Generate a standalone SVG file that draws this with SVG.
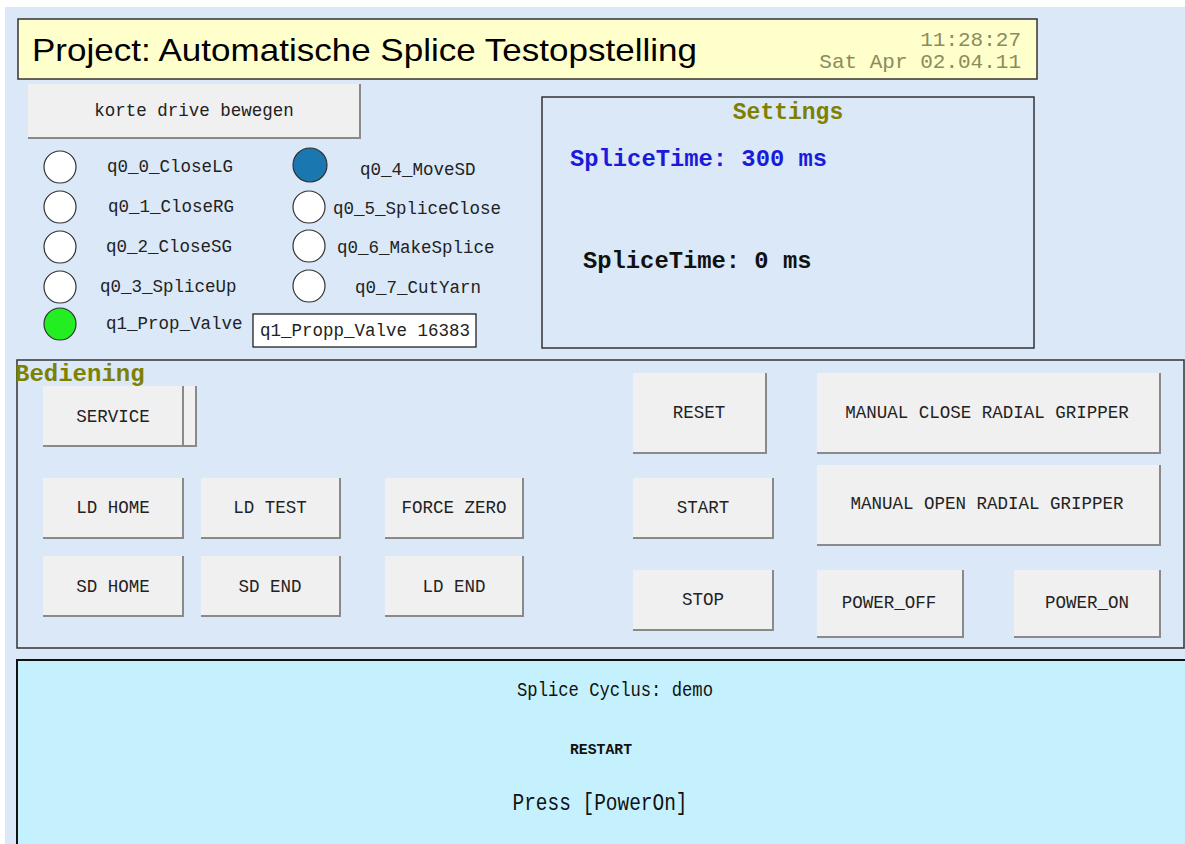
<svg xmlns="http://www.w3.org/2000/svg" width="1185" height="844" viewBox="0 0 1185 844">
<style>
.bg{fill:#dae8f8}
.btn rect{fill:#f0f0f0}
.btn polyline{fill:none;stroke:#8a8a8a;stroke-width:2}
.bt{font-family:"Liberation Mono",monospace;font-size:17.5px;fill:#222;text-anchor:middle}
.lbl{font-family:"Liberation Mono",monospace;font-size:17.5px;fill:#222}
.led{stroke:#333;stroke-width:1.2}
.olive{font-family:"Liberation Mono",monospace;font-weight:bold;fill:#7f8000}
.st{font-family:"Liberation Mono",monospace;fill:#111;text-anchor:middle}
</style>
<rect x="0" y="0" width="1185" height="844" fill="#ffffff"/>
<rect class="bg" x="5" y="7" width="1180" height="837"/>

<g id="title">
<rect x="18" y="19" width="1019" height="60" fill="#ffffcc" stroke="#333" stroke-width="1.5"/>
<text x="32" y="61" font-family="Liberation Sans, Arial, sans-serif" font-size="32" textLength="665" lengthAdjust="spacingAndGlyphs" fill="#000">Project: Automatische Splice Testopstelling</text>
<text x="1021" y="46" font-family="Liberation Mono, monospace" font-size="21" fill="#8b8b5e" text-anchor="end">11:28:27</text>
<text x="1021" y="68" font-family="Liberation Mono, monospace" font-size="21" fill="#8b8b5e" text-anchor="end">Sat Apr 02.04.11</text>
</g>

<g id="btn-korte" class="btn">
<rect x="28" y="84" width="332" height="54"/>
<polyline points="28,138 360,138 360,84"/>
<text class="bt" x="194" y="116">korte drive bewegen</text>
</g>

<g id="leds">
<g id="led-q0_0"><circle class="led" cx="60" cy="167" r="16" fill="#ffffff"/><text class="lbl" x="107" y="172">q0_0_CloseLG</text></g>
<g id="led-q0_1"><circle class="led" cx="60" cy="207" r="16" fill="#ffffff"/><text class="lbl" x="108" y="212">q0_1_CloseRG</text></g>
<g id="led-q0_2"><circle class="led" cx="60" cy="247" r="16" fill="#ffffff"/><text class="lbl" x="106" y="252">q0_2_CloseSG</text></g>
<g id="led-q0_3"><circle class="led" cx="60" cy="287" r="16" fill="#ffffff"/><text class="lbl" x="100" y="292">q0_3_SpliceUp</text></g>
<g id="led-q1"><circle class="led" cx="60" cy="324" r="16" fill="#22ee22"/><text class="lbl" x="106" y="329">q1_Prop_Valve</text></g>
<g id="led-q0_4"><circle class="led" cx="310" cy="165" r="17" fill="#1a77b0"/><text class="lbl" x="360" y="175">q0_4_MoveSD</text></g>
<g id="led-q0_5"><circle class="led" cx="309" cy="207" r="16" fill="#ffffff"/><text class="lbl" x="333" y="214">q0_5_SpliceClose</text></g>
<g id="led-q0_6"><circle class="led" cx="309" cy="246" r="16" fill="#ffffff"/><text class="lbl" x="337" y="253">q0_6_MakeSplice</text></g>
<g id="led-q0_7"><circle class="led" cx="309" cy="286" r="16" fill="#ffffff"/><text class="lbl" x="355" y="293">q0_7_CutYarn</text></g>
<g id="valve-box"><rect x="253" y="314" width="223" height="33" fill="#ffffff" stroke="#111" stroke-width="1.2"/><text class="lbl" x="260" y="336">q1_Propp_Valve 16383</text></g>
</g>

<g id="settings">
<rect x="542" y="97" width="492" height="251" fill="none" stroke="#333" stroke-width="1.5"/>
<text class="olive" x="788" y="119" font-size="23" text-anchor="middle">Settings</text>
<text x="570" y="166" font-family="Liberation Mono, monospace" font-weight="bold" font-size="23.8" fill="#1a1adc">SpliceTime: 300 ms</text>
<text x="583" y="268" font-family="Liberation Mono, monospace" font-weight="bold" font-size="23.8" fill="#111">SpliceTime: 0 ms</text>
</g>

<g id="bediening">
<rect x="17" y="360" width="1167" height="288" fill="none" stroke="#333" stroke-width="1.5"/>
<text class="olive" x="15" y="381" font-size="24">Bediening</text>
</g>

<g id="btn-service" class="btn">
<rect x="43" y="386" width="153" height="60"/>
<polyline points="43,446 196,446 196,386"/>
<line x1="183" y1="386" x2="183" y2="446" stroke="#8a8a8a" stroke-width="2"/>
<text class="bt" x="113" y="422">SERVICE</text>
</g>
<g id="btn-ldhome" class="btn"><rect x="43" y="478" width="140" height="60"/><polyline points="43,538 183,538 183,478"/><text class="bt" x="113" y="513">LD HOME</text></g>
<g id="btn-ldtest" class="btn"><rect x="201" y="478" width="139" height="60"/><polyline points="201,538 340,538 340,478"/><text class="bt" x="270" y="513">LD TEST</text></g>
<g id="btn-forcezero" class="btn"><rect x="385" y="478" width="138" height="60"/><polyline points="385,538 523,538 523,478"/><text class="bt" x="454" y="513">FORCE ZERO</text></g>
<g id="btn-sdhome" class="btn"><rect x="43" y="556" width="140" height="60"/><polyline points="43,616 183,616 183,556"/><text class="bt" x="113" y="592">SD HOME</text></g>
<g id="btn-sdend" class="btn"><rect x="201" y="556" width="139" height="60"/><polyline points="201,616 340,616 340,556"/><text class="bt" x="270" y="592">SD END</text></g>
<g id="btn-ldend" class="btn"><rect x="385" y="556" width="138" height="60"/><polyline points="385,616 523,616 523,556"/><text class="bt" x="454" y="592">LD END</text></g>
<g id="btn-reset" class="btn"><rect x="633" y="373" width="133" height="80"/><polyline points="633,453 766,453 766,373"/><text class="bt" x="699" y="418">RESET</text></g>
<g id="btn-start" class="btn"><rect x="633" y="478" width="140" height="60"/><polyline points="633,538 773,538 773,478"/><text class="bt" x="703" y="513">START</text></g>
<g id="btn-stop" class="btn"><rect x="633" y="570" width="140" height="60"/><polyline points="633,630 773,630 773,570"/><text class="bt" x="703" y="605">STOP</text></g>
<g id="btn-mclose" class="btn"><rect x="817" y="373" width="343" height="80"/><polyline points="817,453 1160,453 1160,373"/><text class="bt" x="987" y="418">MANUAL CLOSE RADIAL GRIPPER</text></g>
<g id="btn-mopen" class="btn"><rect x="817" y="465" width="343" height="80"/><polyline points="817,545 1160,545 1160,465"/><text class="bt" x="987" y="509">MANUAL OPEN RADIAL GRIPPER</text></g>
<g id="btn-poweroff" class="btn"><rect x="817" y="570" width="146" height="67"/><polyline points="817,637 963,637 963,570"/><text class="bt" x="889" y="608">POWER_OFF</text></g>
<g id="btn-poweron" class="btn"><rect x="1014" y="570" width="146" height="67"/><polyline points="1014,637 1160,637 1160,570"/><text class="bt" x="1087" y="608">POWER_ON</text></g>

<g id="status">
<rect x="17" y="660" width="1170" height="190" fill="#c4f1fd" stroke="#111" stroke-width="2"/>
<text class="st" x="615" y="696" font-size="21" textLength="196" lengthAdjust="spacingAndGlyphs">Splice Cyclus: demo</text>
<text class="st" x="601" y="754" font-size="15" font-weight="bold" textLength="62" lengthAdjust="spacingAndGlyphs">RESTART</text>
<text class="st" x="600" y="810" font-size="23" textLength="175" lengthAdjust="spacingAndGlyphs">Press [PowerOn]</text>
</g>
</svg>
